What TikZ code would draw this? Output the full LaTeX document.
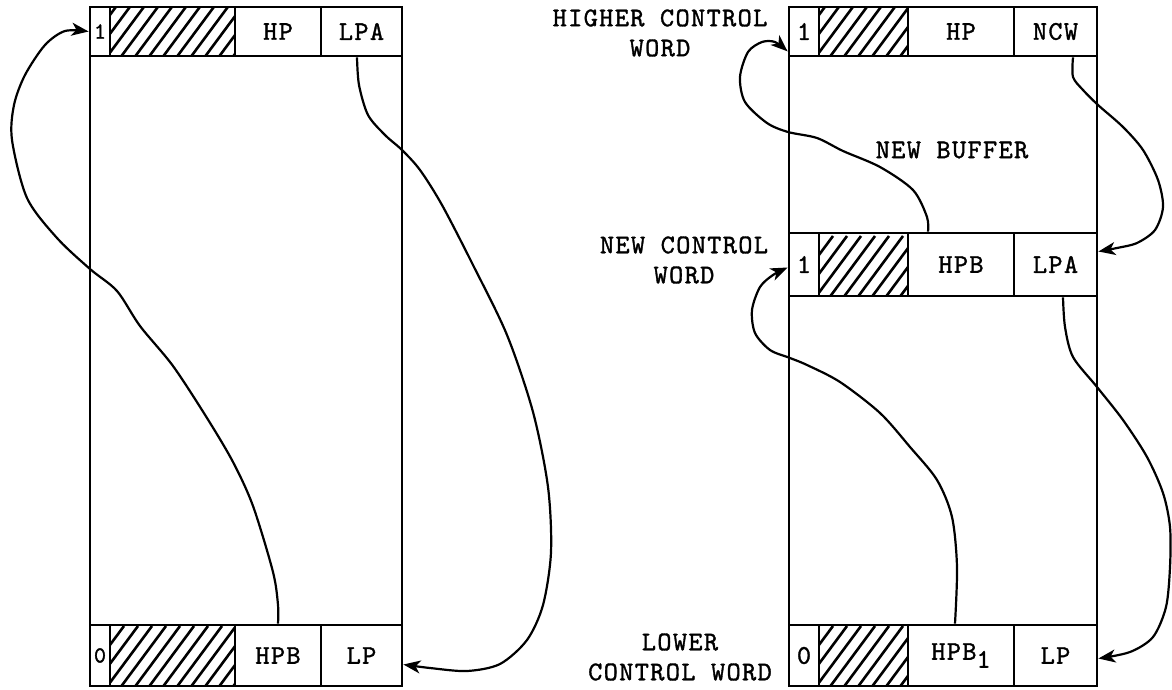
\documentclass[tikz,border=0pt]{standalone}
\usepackage{fontspec}
\newfontfamily\tw{lmmono10-regular.otf}[LetterSpace=5, FakeBold=1.3]
\newfontfamily\twd{lmmono10-regular.otf}[FakeBold=1.3]
\usetikzlibrary{arrows.meta}
\newcommand\hatchcell[4]{%
  \begin{scope}
    \clip (#1,#2) rectangle (#3,#4);
    \foreach \k in {0,...,16} \draw[hatch] ({#1-60+\k*14},#4+2) -- ++(46,-62);
  \end{scope}}
\begin{document}
\begin{tikzpicture}[x=0.5pt,y=-0.5pt,
  cell/.style={draw, line width=1.4pt, inner sep=0pt,
    font=\tw\fontsize{13.5pt}{15.5pt}\selectfont},
  small/.style={font=\twd\fontsize{11.5pt}{13pt}\selectfont},
  box/.style={draw, line width=1.4pt},
  hatch/.style={line width=1.3pt},
  conn/.style={line width=1.1pt, -{Stealth[length=8.5pt,width=6.5pt,inset=2.4pt]}},
  lbl/.style={font=\tw\fontsize{13.5pt}{15pt}\selectfont, align=center, inner sep=0pt}]
\useasboundingbox (0,0) rectangle (1172,690);

% hatching
\hatchcell{110}{7}{235}{56}
\hatchcell{110}{625}{235}{686}
\hatchcell{819}{7}{908}{56}
\hatchcell{819}{233}{908}{296}
\hatchcell{819}{625}{908}{686}

% left buffer
\draw[box] (90,7) rectangle (402,686);
\node[cell, small, minimum width=10pt, minimum height=24.5pt] (LT1) at (100,31.5) {1};
\node[cell, minimum width=62.5pt, minimum height=24.5pt] (LTH) at (172.5,31.5) {};
\node[cell, minimum width=43pt, minimum height=24.5pt] (LTHP) at (278,31.5) {HP};
\node[cell, minimum width=40.5pt, minimum height=24.5pt] (LTLPA) at (361.5,31.5) {LPA};
\node[cell, small, minimum width=10pt, minimum height=30.5pt] (LB0) at (100,655.5) {0};
\node[cell, minimum width=62.5pt, minimum height=30.5pt] (LBH) at (172.5,655.5) {};
\node[cell, minimum width=43pt, minimum height=30.5pt] (LBHPB) at (278,655.5) {HPB};
\node[cell, minimum width=40.5pt, minimum height=30.5pt] (LBLP) at (361.5,655.5) {LP};

% right buffer
\draw[box] (789,7) rectangle (1097,686);
\node[cell, minimum width=15pt, minimum height=24.5pt] (RT1) at (804,31.5) {1};
\node[cell, minimum width=44.5pt, minimum height=24.5pt] (RTH) at (863.5,31.5) {};
\node[cell, minimum width=53pt, minimum height=24.5pt] (RTHP) at (961,31.5) {HP};
\node[cell, minimum width=41.5pt, minimum height=24.5pt] (RTNCW) at (1055.5,31.5) {NCW};
\node[cell, minimum width=15pt, minimum height=31.5pt] (RM1) at (804,264.5) {1};
\node[cell, minimum width=44.5pt, minimum height=31.5pt] (RMH) at (863.5,264.5) {};
\node[cell, minimum width=53pt, minimum height=31.5pt] (RMHPB) at (961,264.5) {HPB};
\node[cell, minimum width=41.5pt, minimum height=31.5pt] (RMLPA) at (1055.5,264.5) {LPA};
\node[cell, minimum width=15pt, minimum height=30.5pt] (RB0) at (804,655.5) {0};
\node[cell, minimum width=44.5pt, minimum height=30.5pt] (RBH) at (863.5,655.5) {};
\node[cell, minimum width=53pt, minimum height=30.5pt] (RBHPB) at (961,655.5) {HPB\raisebox{-4pt}{1}};
\node[cell, minimum width=41.5pt, minimum height=30.5pt] (RBLP) at (1055.5,655.5) {LP};

% labels
\node[lbl] (hcw) at (660,33) {HIGHER CONTROL\\WORD};
\node[lbl] (ncwl) at (684,260) {NEW CONTROL\\WORD};
\node[lbl] (lcw) at (680,657) {LOWER\\CONTROL WORD};
\node[lbl] (nb) at (952,150) {NEW BUFFER};

% left connectors
\draw[conn] plot[smooth, tension=0.5] coordinates {(LBHPB.north) (278,605) (273,572) (253,506) (233,462) (207,418) (173,366) (140,326) (117,291) (90,269) (57,238) (27,198) (12,140) (14,105) (25,75) (45,45) (65,31) (LT1.west)};
\draw[conn] plot[smooth, tension=0.5] coordinates {([xshift=-2.25pt]LTLPA.south) (359,85) (368,115) (385,135) (402,150) (420,170) (442,205) (473,265) (507,335) (533,412) (548,487) (551,552) (543,605) (527,640) (500,664) (467,671) (430,668) ([yshift=-4.5pt]LBLP.east)};

% right connectors
\draw[conn] plot[smooth, tension=0.5] coordinates {([xshift=-16.5pt]RMHPB.north) (927,217) (913,190) (880,167) (843,151) (817,138) (788,132) (767,123) (745,102) (740,77) (748,52) (762,42) (775,42) ([yshift=3pt]RT1.south west)};
\draw[conn] plot[smooth, tension=0.5] coordinates {([xshift=-3pt]RBHPB.north) (957,567) (952,517) (937,480) (910,447) (880,413) (840,382) (807,365) (790,358) (770,350) (755,333) (752,310) (760,287) (773,275) ([yshift=-1.5pt]RM1.west)};
\draw[conn] plot[smooth, tension=0.5] coordinates {([xshift=8.75pt]RTNCW.south) (1073,77) (1083,90) (1098,105) (1123,127) (1143,150) (1158,180) (1163,207) (1155,230) (1137,243) (1117,248) ([yshift=6.5pt]RMLPA.east)};
\draw[conn] plot[smooth, tension=0.5] coordinates {([xshift=3.75pt]RMLPA.south) (1065,327) (1073,357) (1097,387) (1123,420) (1147,457) (1163,493) (1170,527) (1170,567) (1166,607) (1153,637) (1130,652) ([yshift=-1.5pt]RBLP.east)};
\end{tikzpicture}
\end{document}
